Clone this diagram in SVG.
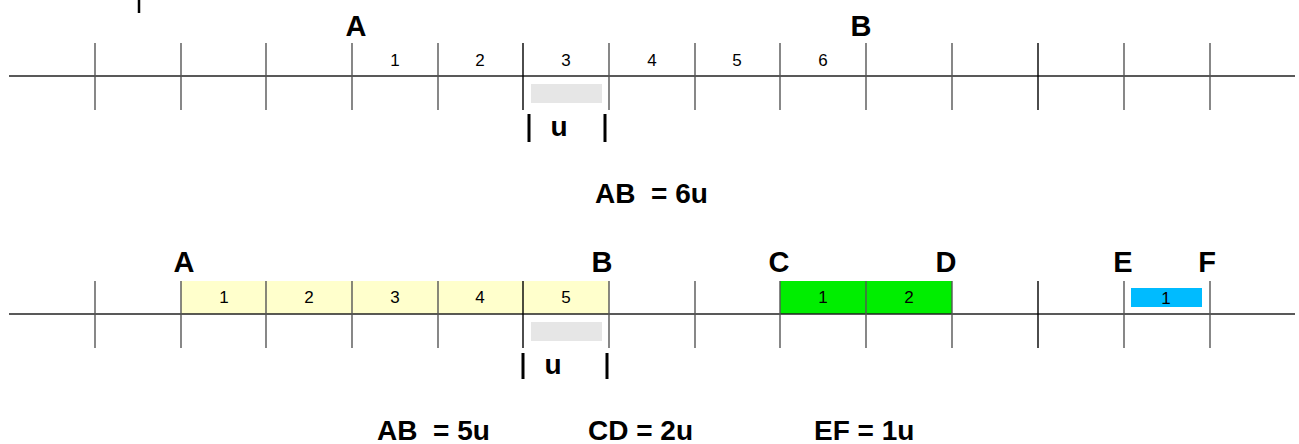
<svg xmlns="http://www.w3.org/2000/svg" width="1299" height="444" viewBox="0 0 1299 444">
<style>
.ax{stroke:#222;stroke-width:1.3}
.tk{stroke:#555;stroke-width:1.4}
.lbl{font-family:"Liberation Sans",Arial,sans-serif;font-weight:bold;font-size:29px;fill:#000;text-anchor:middle}
.u{font-family:"Liberation Sans",Arial,sans-serif;font-weight:bold;font-size:28px;fill:#000;text-anchor:middle}
.num{font-family:"Liberation Sans",Arial,sans-serif;font-size:17px;fill:#000;text-anchor:middle}
.eq{font-family:"Liberation Sans",Arial,sans-serif;font-weight:bold;font-size:28px;fill:#000}
.bar{stroke:#000;stroke-width:3}
</style>
<rect width="1299" height="444" fill="#fff"/>
<line x1="139" y1="0" x2="139" y2="13" stroke="#000" stroke-width="2.5"/>
<g id="top-line">
<rect x="531" y="84" width="71" height="19" fill="#e6e6e6"/>
<line class="ax" x1="9" y1="76" x2="1295" y2="76"/>
<g class="tk">
<line x1="95" y1="43" x2="95" y2="110"/><line x1="181" y1="43" x2="181" y2="110"/><line x1="266" y1="43" x2="266" y2="110"/><line x1="352" y1="43" x2="352" y2="110"/><line x1="438" y1="43" x2="438" y2="110"/><line x1="523" y1="43" x2="523" y2="110" stroke="#000"/><line x1="609" y1="43" x2="609" y2="110"/><line x1="695" y1="43" x2="695" y2="110"/><line x1="780" y1="43" x2="780" y2="110"/><line x1="866" y1="43" x2="866" y2="110"/><line x1="952" y1="43" x2="952" y2="110"/><line x1="1038" y1="43" x2="1038" y2="110" stroke="#000"/><line x1="1124" y1="43" x2="1124" y2="110"/><line x1="1210" y1="43" x2="1210" y2="110"/>
</g>
<text class="lbl" x="356" y="36">A</text>
<text class="lbl" x="861" y="36">B</text>
<text class="num" x="395" y="66">1</text><text class="num" x="480" y="66">2</text><text class="num" x="566" y="66">3</text><text class="num" x="652" y="66">4</text><text class="num" x="737" y="66">5</text><text class="num" x="823" y="66">6</text>
<line class="bar" x1="529" y1="114" x2="529" y2="142"/>
<line class="bar" x1="605" y1="114" x2="605" y2="142"/>
<text class="u" x="559" y="136">u</text>
<text class="eq" x="595" y="203" xml:space="preserve">AB  = 6u</text>
</g>
<g id="bottom-line">
<rect x="181" y="281" width="428" height="33" fill="#ffffcc"/>
<rect x="780" y="281" width="172" height="33" fill="#00ee00"/>
<rect x="1131" y="288" width="71" height="19" fill="#00bbff"/>
<rect x="531" y="322" width="71" height="19" fill="#e6e6e6"/>
<line class="ax" x1="9" y1="314" x2="1295" y2="314"/>
<g class="tk">
<line x1="95" y1="281" x2="95" y2="348"/><line x1="181" y1="281" x2="181" y2="348"/><line x1="266" y1="281" x2="266" y2="348"/><line x1="352" y1="281" x2="352" y2="348"/><line x1="438" y1="281" x2="438" y2="348"/><line x1="523" y1="281" x2="523" y2="348" stroke="#000"/><line x1="609" y1="281" x2="609" y2="348"/><line x1="695" y1="281" x2="695" y2="348"/><line x1="780" y1="281" x2="780" y2="348"/><line x1="866" y1="281" x2="866" y2="348"/><line x1="952" y1="281" x2="952" y2="348"/><line x1="1038" y1="281" x2="1038" y2="348" stroke="#000"/><line x1="1124" y1="281" x2="1124" y2="348"/><line x1="1210" y1="281" x2="1210" y2="348"/>
</g>
<text class="lbl" x="184" y="272">A</text>
<text class="lbl" x="602" y="272">B</text>
<text class="lbl" x="779" y="272">C</text>
<text class="lbl" x="946" y="272">D</text>
<text class="lbl" x="1123" y="272">E</text>
<text class="lbl" x="1207" y="272">F</text>
<text class="num" x="224" y="303">1</text><text class="num" x="309" y="303">2</text><text class="num" x="395" y="303">3</text><text class="num" x="480" y="303">4</text><text class="num" x="566" y="303">5</text>
<text class="num" x="823" y="303">1</text><text class="num" x="909" y="303">2</text>
<text class="num" x="1166" y="304">1</text>
<line class="bar" x1="523" y1="353" x2="523" y2="379"/>
<line class="bar" x1="607" y1="353" x2="607" y2="379"/>
<text class="u" x="553" y="374">u</text>
<text class="eq" x="377" y="440" xml:space="preserve">AB  = 5u</text>
<text class="eq" x="588" y="440">CD = 2u</text>
<text class="eq" x="814" y="440">EF = 1u</text>
</g>
</svg>
